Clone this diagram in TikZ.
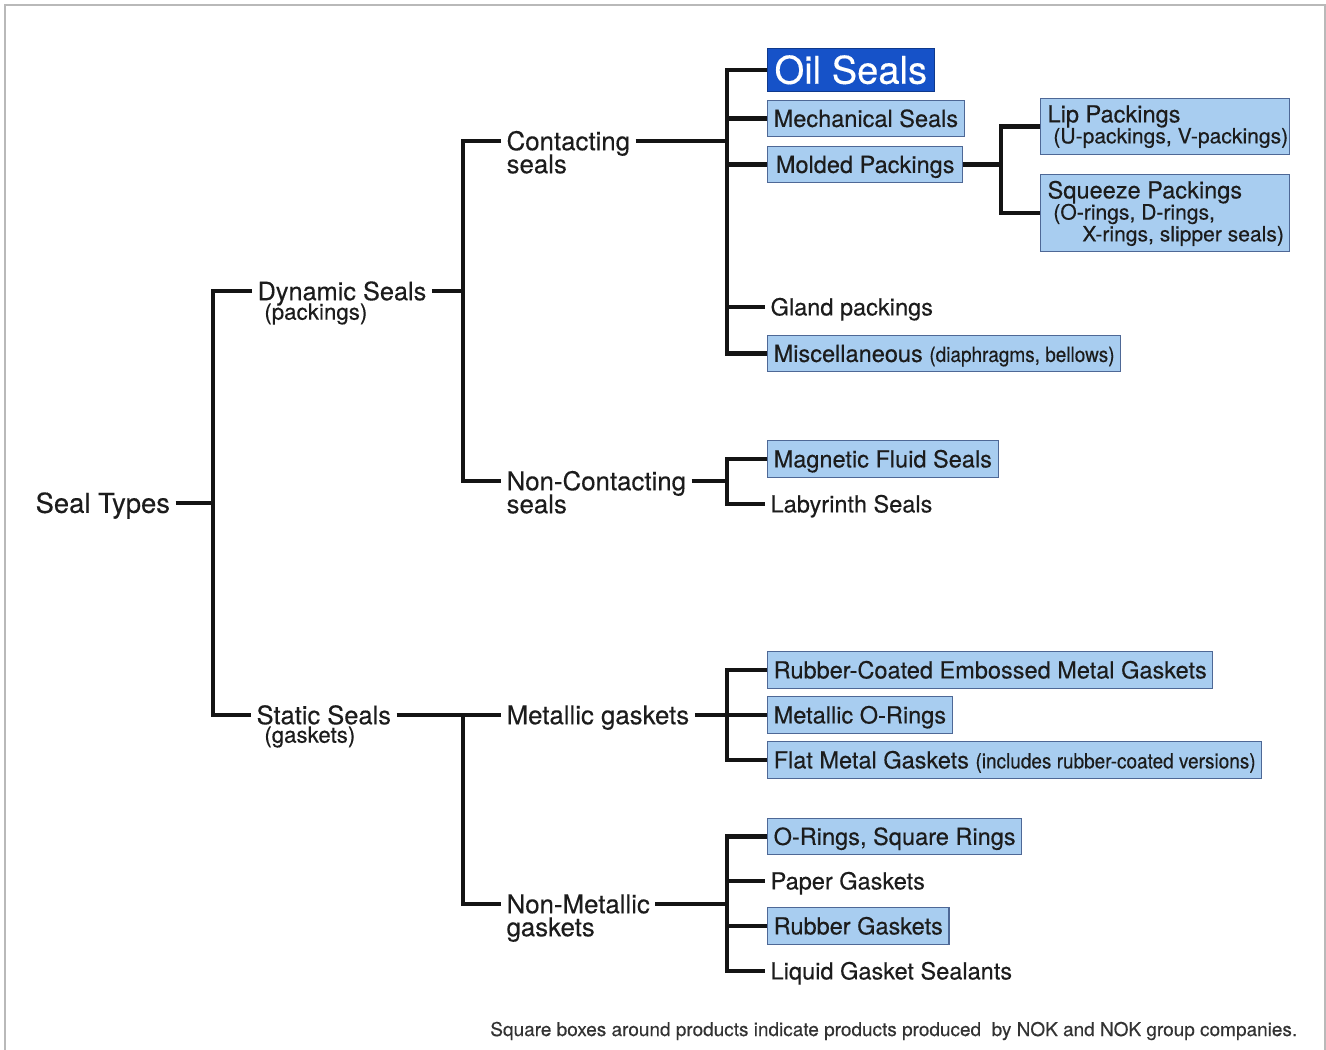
\documentclass[tikz,border=0pt]{standalone}
\usepackage{fontspec}
\setmainfont{TeX Gyre Heros}[FakeBold=0.3]
\newfontfamily\narrowfont[FakeStretch=0.9,FakeBold=0.3]{TeX Gyre Heros}
\usetikzlibrary{positioning}
\definecolor{boxfill}{RGB}{168,205,240}
\definecolor{boxline}{RGB}{78,104,150}
\definecolor{oilblue}{RGB}{22,82,200}
\definecolor{inkgray}{RGB}{28,28,28}
\tikzset{
  branch/.style={line width=2.4pt,black!92,line join=miter},
  lbl/.style={font=\fontsize{13.4}{16}\selectfont,text=inkgray,inner xsep=3pt,inner ysep=0pt,text height=9.6pt,text depth=0pt,anchor=west},
  midlbl/.style={lbl,font=\fontsize{14.7}{17}\selectfont,text height=10.5pt},
  sublbl/.style={font=\fontsize{12}{14}\selectfont,text=inkgray,inner sep=0pt,anchor=west},
  prod/.style={lbl,draw=boxline,fill=boxfill,line width=0.6pt,inner xsep=3.5pt,minimum height=21pt},
  prodbox/.style={draw=boxline,fill=boxfill,line width=0.6pt,minimum width=141.7pt,inner sep=0pt},
}

\begin{document}
\begin{tikzpicture}[x=0.02cm,y=-0.02cm]
\useasboundingbox (0,0) rectangle (1326,1050);
\draw[gray!55,line width=0.8pt] (5,1050) -- (5,5) -- (1325,5) -- (1325,1050);

\node[lbl,font=\fontsize{15.6}{18}\selectfont,text height=11.2pt] (types) at (30,503) {Seal Types};
\node[midlbl,font=\fontsize{14.4}{17}\selectfont] (dyn) at (252,291) {Dynamic Seals};
\node[sublbl,font=\fontsize{12.7}{15}\selectfont] (dynsub) at (264,314) {(packings)};
\node[midlbl,font=\fontsize{14.5}{17}\selectfont] (stat) at (251,715) {Static Seals};
\node[sublbl,font=\fontsize{12.7}{15}\selectfont] (statsub) at (264,737) {(gaskets)};

\node[midlbl] (cont) at (501,141) {Contacting};
\node[midlbl] (contsub) at (501,164) {seals};
\node[midlbl] (noncont) at (501,481) {Non-Contacting};
\node[midlbl] (noncontsub) at (501,504) {seals};
\node[midlbl] (met) at (501,715) {Metallic gaskets};
\node[midlbl] (nonmet) at (501,904) {Non-Metallic};
\node[midlbl] (nonmetsub) at (501,927) {gaskets};

\node[prod,font=\fontsize{21.7}{24}\selectfont,text=white,fill=oilblue,draw=oilblue!70!black,text height=15.6pt,inner xsep=4pt,minimum height=25pt] (oil) at (767,70) {Oil Seals};
\node[prod] (mech) at (767,118.5) {Mechanical Seals};
\node[prod,minimum width=111.2pt] (mold) at (767,164.5) {Molded Packings};
\node[lbl] (gland) at (765,307) {Gland packings};
\node[prod] (misc) at (767,353.5) {Miscellaneous {\narrowfont\fontsize{12}{14}\selectfont(diaphragms, bellows)}};

\node[prodbox,minimum height=32.3pt] (lip) at (1165,126.5) {};
\node[lbl] (liptxt) at (1042,114) {Lip Packings};
\node[sublbl] (lipsub) at (1053,138) {(U-packings, V-packings)};
\node[prodbox,minimum height=44.2pt] (squeeze) at (1165,213) {};
\node[lbl] (sqtxt) at (1042,190) {Squeeze Packings};
\node[sublbl] (sqsub) at (1053,214) {(O-rings, D-rings,};
\node[sublbl] (sqsubb) at (1082,236) {X-rings, slipper seals)};

\node[prod] (magn) at (767,459) {Magnetic Fluid Seals};
\node[lbl] (laby) at (765,504) {Labyrinth Seals};

\node[prod] (rubemb) at (767,670) {Rubber-Coated Embossed Metal Gaskets};
\node[prod] (metoring) at (767,715) {Metallic O-Rings};
\node[prod] (flat) at (767,760) {Flat Metal Gaskets {\narrowfont\fontsize{12}{14}\selectfont(includes rubber-coated versions)}};

\node[prod] (oring) at (767,836.5) {O-Rings, Square Rings};
\node[lbl] (paper) at (765,881) {Paper Gaskets};
\node[prod] (rubber) at (767,926) {Rubber Gaskets};
\node[lbl] (liquid) at (765,971) {Liquid Gasket Sealants};

\node[sublbl,font=\fontsize{10.8}{13}\selectfont,text=black!80] (note) at (490,1031) {Square boxes around products indicate products produced~ by NOK and NOK group companies.};

\coordinate (t0) at (213,503);
\coordinate (t1) at (463,291);
\coordinate (t2) at (463,715);
\coordinate (t3) at (727,141);
\coordinate (t4) at (1001,164.5);
\coordinate (t5) at (727,481);
\coordinate (t6) at (727,715);
\coordinate (t7) at (727,904);

\draw[branch] (types.east) -- (t0);
\draw[branch] (dyn.west) -| (t0) |- (stat.west);
\draw[branch] (dyn.east) -- (t1);
\draw[branch] (cont.west) -| (t1) |- (noncont.west);
\draw[branch] (stat.east) -- (met.west);
\draw[branch] (t2) |- (nonmet.west);

\draw[branch] (cont.east) -- (t3);
\draw[branch] (oil.west) -| (t3) |- (misc.west);
\foreach \n in {mech,mold,gland} \draw[branch] (t3 |- \n.west) -- (\n.west);
\draw[branch] (mold.east) -- (t4);
\draw[branch] (lip.west) -| (t4) |- (squeeze.west);

\draw[branch] (noncont.east) -- (t5);
\draw[branch] (magn.west) -| (t5) |- (laby.west);

\draw[branch] (met.east) -- (t6);
\draw[branch] (rubemb.west) -| (t6) |- (flat.west);
\draw[branch] (t6) -- (metoring.west);

\draw[branch] (nonmet.east) -- (t7);
\draw[branch] (oring.west) -| (t7) |- (liquid.west);
\foreach \n in {paper,rubber} \draw[branch] (t7 |- \n.west) -- (\n.west);
\end{tikzpicture}
\end{document}
